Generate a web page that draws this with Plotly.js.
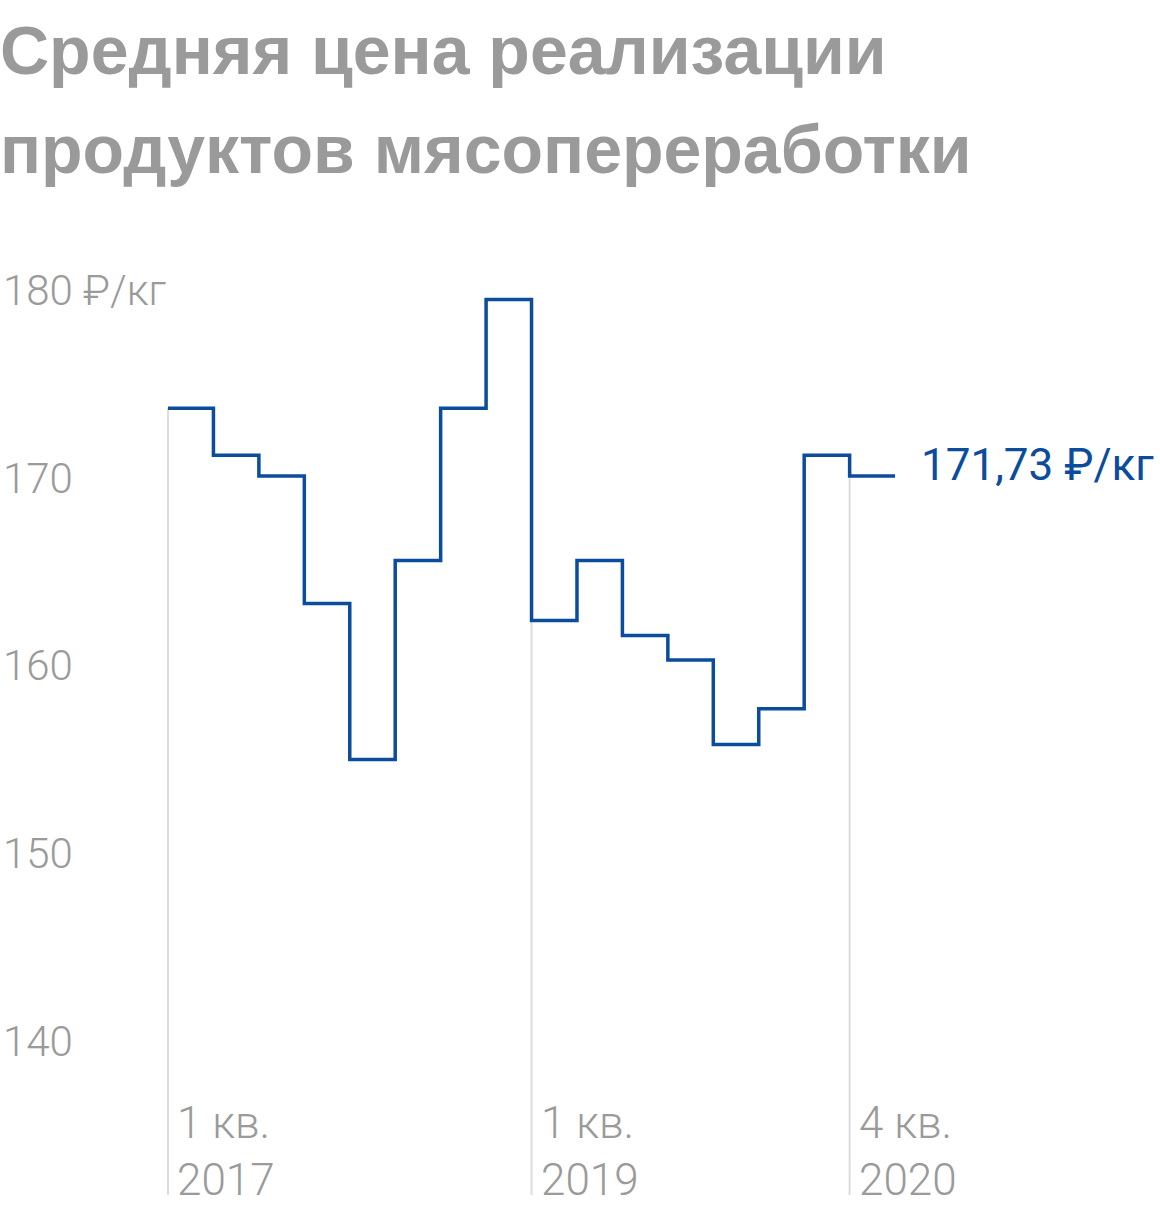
<!DOCTYPE html>
<html>
<head>
<meta charset="utf-8">
<script src="https://cdn.plot.ly/plotly-3.0.1.min.js"></script>
<style>html,body{margin:0;padding:0;background:#fff}#chart{width:1160px;height:1216px}</style>
</head>
<body>
<div id="chart"></div>
<script>
// Data
const quarters = ['1 кв. 2017','2 кв. 2017','3 кв. 2017','4 кв. 2017','1 кв. 2018','2 кв. 2018','3 кв. 2018','4 кв. 2018','1 кв. 2019','2 кв. 2019','3 кв. 2019','4 кв. 2019','1 кв. 2020','2 кв. 2020','3 кв. 2020','4 кв. 2020'];
const prices = [173.7, 171.2, 170.1, 163.3, 155.0, 165.6, 173.7, 179.5, 162.4, 165.6, 161.6, 160.3, 155.8, 157.7, 171.2, 170.1];
const yTickVals = [140, 150, 160, 170, 180];
const yTickText = ['140', '150', '160', '170', '180 ₽/кг'];
const markedIdx = [0, 8, 15];
const markedLabels = ['1 кв.<br>2017', '1 кв.<br>2019', '4 кв.<br>2020'];
const lastLabel = '171,73 ₽/кг';
const titleLines = ['Средняя цена реализации', 'продуктов мясопереработки'];

const xs = prices.map((_, i) => i);
const stepX = xs.concat([prices.length]);
const stepY = prices.concat([prices[prices.length - 1]]);

const gridBottom = 131.8;
const gx = [], gy = [];
markedIdx.forEach(i => { gx.push(i, i, null); gy.push(prices[i], gridBottom, null); });

const traces = [
  {x: gx, y: gy, mode: 'lines', line: {color: '#dcdcdc', width: 2}, hoverinfo: 'skip', showlegend: false},
  {x: stepX, y: stepY, mode: 'lines', line: {shape: 'hv', color: '#0b4c9c', width: 3.5}, showlegend: false,
   text: quarters.concat(['']), hoverinfo: 'y+text'}
];

const annotations = markedIdx.map((i, k) => ({
  x: i, xref: 'x', y: 1 - 1151 / 1216, yref: 'paper', yanchor: 'middle', xanchor: 'left', xshift: 7,
  text: markedLabels[k], showarrow: false, align: 'left',
  font: {family: 'Roboto', size: 44, color: '#9a9a9a', weight: 300}
}));
annotations.push({
  x: prices.length, y: prices[prices.length - 1], xref: 'x', yref: 'y', xanchor: 'left', yanchor: 'middle',
  xshift: 24, yshift: 11, text: lastLabel, showarrow: false,
  font: {family: 'Roboto', size: 44, color: '#0b4c9c'}
});
const titleCenters = [50, 149];
titleLines.forEach((t, k) => annotations.push({
  x: 0, xref: 'paper', xanchor: 'left', xshift: -2, y: 1 - titleCenters[k] / 1216, yref: 'paper', yanchor: 'middle',
  text: t, showarrow: false,
  font: {family: 'Liberation Sans', size: 68, color: '#9a9a9a', weight: 'bold'}
}));

const layout = {
  width: 1160, height: 1216,
  margin: {l: 0, r: 0, t: 0, b: 0},
  paper_bgcolor: '#fff', plot_bgcolor: '#fff',
  xaxis: {range: [-3.697, 21.83], showgrid: false, zeroline: false, showline: false, showticklabels: false, ticks: '', fixedrange: true},
  yaxis: {range: [130.68, 195.45], tickvals: yTickVals, ticktext: yTickText, ticklabelposition: 'inside',
    showgrid: false, zeroline: false, showline: false, ticks: '', fixedrange: true,
    tickfont: {family: 'Roboto', size: 42, color: '#9a9a9a', weight: 300}},
  annotations: annotations,
  showlegend: false
};

Plotly.newPlot('chart', traces, layout, {displayModeBar: false, staticPlot: true});
</script>
</body>
</html>
